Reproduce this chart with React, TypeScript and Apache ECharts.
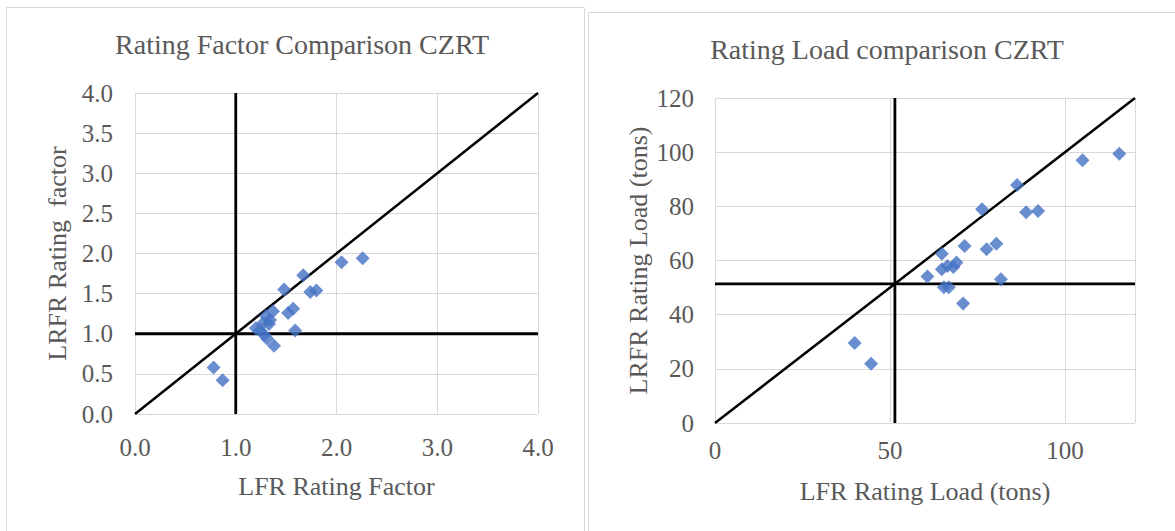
import React, { useEffect, useRef } from "react";
import * as echarts from "echarts";

// Left chart: Rating Factor comparison
const lfrFactor = [0.78, 0.87, 1.2, 1.24, 1.27, 1.3, 1.33, 1.34, 1.37, 1.28, 1.31, 1.38, 1.48, 1.52, 1.57, 1.59, 1.67, 1.74, 1.8, 2.05, 2.26];
const lrfrFactor = [0.58, 0.42, 1.07, 1.04, 1.13, 1.22, 1.12, 1.17, 1.28, 0.99, 0.94, 0.85, 1.55, 1.26, 1.31, 1.04, 1.73, 1.52, 1.54, 1.89, 1.94];
const factorRef = [1.0];
const factorDiag = [0, 4];

// Right chart: Rating Load comparison (tons)
const lfrLoad = [39.9, 44.6, 60.7, 64.8, 64.8, 66.4, 68.1, 69.0, 65.4, 66.8, 70.9, 71.3, 77.6, 80.4, 81.7, 76.3, 86.3, 88.9, 92.3, 105, 115.5];
const lrfrLoad = [29.5, 21.9, 54.1, 62.5, 56.8, 58.0, 57.6, 59.3, 50.1, 50.1, 44.1, 65.4, 64.2, 66.2, 53.1, 78.9, 87.9, 77.8, 78.3, 97, 99.4];
const loadRef = [51.4];
const loadDiag = [0, 120];

const titles = ["Rating Factor Comparison CZRT", "Rating Load comparison CZRT"];
const xNames = ["LFR Rating Factor", "LFR Rating Load (tons)"];
const yNames = ["LRFR Rating  factor", "LRFR Rating Load (tons)"];

const FONT = "'Liberation Serif', 'Times New Roman', serif";
const TXT = "#595959";
const GRIDC = "#d9d9d9";
const BLUE = "#4472C4";

export default function App() {
  const ref = useRef<HTMLDivElement>(null);
  useEffect(() => {
    if (!ref.current) return;
    const chart = echarts.init(ref.current, null, { renderer: "svg" });
    const lbl = { color: TXT, fontFamily: FONT, fontSize: 25 };
    const nameStyle = { color: TXT, fontFamily: FONT, fontSize: 26 };
    const split = { show: true, lineStyle: { color: GRIDC, width: 1 } };
    const blackLine = (w: number) => ({ color: "#000", width: w });
    const fmt1 = (v: number) => v.toFixed(1);
    const titleStyle = { color: TXT, fontFamily: FONT, fontSize: 28, fontWeight: "normal" };

    const option: any = {
      animation: false,
      backgroundColor: "#fff",
      title: [
        { text: titles[0], left: 297, top: 25, textAlign: "center", textStyle: titleStyle },
        { text: titles[1], left: 882, top: 30, textAlign: "center", textStyle: titleStyle },
      ],
      graphic: [
        { type: "rect", shape: { x: 6.5, y: 7.5, width: 578, height: 540 }, style: { fill: "none", stroke: "#d9d9d9", lineWidth: 1 } },
        { type: "rect", shape: { x: 588.5, y: 12.5, width: 600, height: 540 }, style: { fill: "none", stroke: "#d9d9d9", lineWidth: 1 } },
      ],
      grid: [
        { left: 135, top: 93, width: 403, height: 321 },
        { left: 715, top: 98, width: 420, height: 325 },
      ],
      xAxis: [
        {
          gridIndex: 0, type: "value", min: 0, max: 4, interval: 1,
          axisLine: { show: false }, axisTick: { show: false }, splitLine: split,
          axisLabel: { ...lbl, margin: 21, formatter: fmt1 },
          name: xNames[0], nameLocation: "middle", nameGap: 59, nameTextStyle: nameStyle,
        },
        {
          gridIndex: 1, type: "value", min: 0, max: 120, interval: 50,
          axisLine: { show: false }, axisTick: { show: false }, splitLine: split,
          axisLabel: { ...lbl, margin: 15, showMaxLabel: false },
          name: xNames[1], nameLocation: "middle", nameGap: 55, nameTextStyle: nameStyle,
        },
      ],
      yAxis: [
        {
          gridIndex: 0, type: "value", min: 0, max: 4, interval: 0.5,
          axisLine: { show: false }, axisTick: { show: false }, splitLine: split,
          axisLabel: { ...lbl, margin: 22, formatter: fmt1 },
          name: yNames[0], nameLocation: "middle", nameGap: 65, nameTextStyle: nameStyle,
        },
        {
          gridIndex: 1, type: "value", min: 0, max: 120, interval: 20,
          axisLine: { show: false }, axisTick: { show: false }, splitLine: split,
          axisLabel: { ...lbl, margin: 21 },
          name: yNames[1], nameLocation: "middle", nameGap: 64, nameTextStyle: nameStyle,
        },
      ],
      series: [
        { type: "line", xAxisIndex: 0, yAxisIndex: 0, symbol: "none", lineStyle: blackLine(2.5), data: factorDiag.map((v) => [v, v]) },
        { type: "line", xAxisIndex: 0, yAxisIndex: 0, symbol: "none", lineStyle: blackLine(2.8), data: [[factorRef[0], 0], [factorRef[0], 4]] },
        { type: "line", xAxisIndex: 0, yAxisIndex: 0, symbol: "none", lineStyle: blackLine(2.8), data: [[0, factorRef[0]], [4, factorRef[0]]] },
        {
          type: "scatter", xAxisIndex: 0, yAxisIndex: 0, symbol: "diamond", symbolSize: 14,
          itemStyle: { color: BLUE }, data: lfrFactor.map((x, i) => [x, lrfrFactor[i]]), z: 5,
        },
        { type: "line", xAxisIndex: 1, yAxisIndex: 1, symbol: "none", lineStyle: blackLine(2.5), data: loadDiag.map((v) => [v, v]) },
        { type: "line", xAxisIndex: 1, yAxisIndex: 1, symbol: "none", lineStyle: blackLine(2.8), data: [[loadRef[0], 0], [loadRef[0], 120]] },
        { type: "line", xAxisIndex: 1, yAxisIndex: 1, symbol: "none", lineStyle: blackLine(2.8), data: [[0, loadRef[0]], [120, loadRef[0]]] },
        {
          type: "scatter", xAxisIndex: 1, yAxisIndex: 1, symbol: "diamond", symbolSize: 14,
          itemStyle: { color: BLUE }, data: lfrLoad.map((x, i) => [x, lrfrLoad[i]]), z: 5,
        },
      ],
    };
    chart.setOption(option);
    return () => chart.dispose();
  }, []);
  return (
    <div
      ref={ref}
      style={{ position: "absolute", left: 0, top: 0, width: 1175, height: 531, background: "#fff" }}
    />
  );
}
